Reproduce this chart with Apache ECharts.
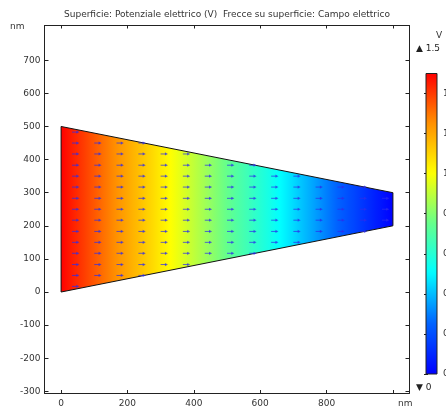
<!DOCTYPE html>
<html>
<head>
<meta charset="utf-8">
<script src="https://cdn.jsdelivr.net/npm/echarts@6/dist/echarts.min.js"></script>
<style>
  html, body { margin: 0; padding: 0; background: #ffffff; }
  #chart { width: 446px; height: 407px; }
</style>
</head>
<body>
<div id="chart"></div>
<script>
// Domain outline (nm), counter-clockwise
const outlineX = [0, 1000, 1000, 0];
const outlineY = [0, 200, 300, 500];

// Electric potential sampled along x (nm -> V)
const potentialX = [0, 250, 500, 750, 1000];
const potentialV = [1.5, 1.125, 0.75, 0.375, 0];

// Arrow sampling grid for the electric field (nm)
const arrowCols = [33, 100, 167, 233, 300, 367, 433, 500, 567, 633, 700, 767, 833, 900, 967];
const arrowRows = [17, 50, 83, 117, 150, 183, 217, 250, 283, 317, 350, 383, 417, 450, 483];

// Axis ticks
const xTicks = [0, 200, 400, 600, 800, 1000];
const xTickLabels = [0, 200, 400, 600, 800];
const yTicks = [-300, -200, -100, 0, 100, 200, 300, 400, 500, 600, 700];
const barTicks = [0, 0.2, 0.4, 0.6, 0.8, 1, 1.2, 1.4];
const barRange = [0, 1.5];

const FONT = '"DejaVu Sans", sans-serif';
const AXIS_COLOR = '#222222';
const TEXT_COLOR = '#333333';
const ARROW_COLOR = 'rgba(45, 45, 235, 0.72)';

// Rainbow colour table, position in [0,1] -> rgb
const rainbow = [
  [0.00, [0, 0, 255]],
  [0.17, [0, 100, 255]],
  [0.34, [0, 255, 255]],
  [0.50, [100, 255, 140]],
  [0.67, [255, 255, 0]],
  [0.84, [255, 140, 0]],
  [1.00, [255, 0, 0]]
];

function rainbowColor(t) {
  t = Math.max(0, Math.min(1, t));
  for (let i = 1; i < rainbow.length; i++) {
    if (t <= rainbow[i][0]) {
      const a = rainbow[i - 1], b = rainbow[i];
      const f = (t - a[0]) / (b[0] - a[0]);
      const c = a[1].map((v, k) => Math.round(v + (b[1][k] - v) * f));
      return 'rgb(' + c.join(',') + ')';
    }
  }
  return 'rgb(255,0,0)';
}

function potentialAt(x) {
  for (let i = 1; i < potentialX.length; i++) {
    if (x <= potentialX[i]) {
      const f = (x - potentialX[i - 1]) / (potentialX[i] - potentialX[i - 1]);
      return potentialV[i - 1] + (potentialV[i] - potentialV[i - 1]) * f;
    }
  }
  return potentialV[potentialV.length - 1];
}

function toUnit(v) {
  return (v - barRange[0]) / (barRange[1] - barRange[0]);
}

function insideOutline(x, y) {
  let inside = false;
  for (let i = 0, j = outlineX.length - 1; i < outlineX.length; j = i++) {
    const xi = outlineX[i], yi = outlineY[i], xj = outlineX[j], yj = outlineY[j];
    if ((yi > y) !== (yj > y) && x < (xj - xi) * (y - yi) / (yj - yi) + xi) inside = !inside;
  }
  return inside;
}

const arrowPoints = [];
arrowCols.forEach(x => arrowRows.forEach(y => {
  if (insideOutline(x, y)) arrowPoints.push([x, y]);
}));

const chart = echarts.init(document.getElementById('chart'), null, { renderer: 'canvas' });

const tickStyle = { color: AXIS_COLOR, width: 1 };
const lineStyle = { color: AXIS_COLOR, width: 1 };
const labelStyle = { color: TEXT_COLOR, fontSize: 9, fontFamily: FONT };

chart.setOption({
  animation: false,
  backgroundColor: '#ffffff',
  grid: [
    { left: 44.5, right: 36.5, top: 25.5, bottom: 14, outerBoundsMode: 'none', containLabel: false },
    { left: 426, top: 73.5, width: 11, height: 300.5, outerBoundsMode: 'none', containLabel: false }
  ],
  xAxis: [
    {
      gridIndex: 0, type: 'value', min: -50, max: 1050, position: 'bottom',
      axisLine: { onZero: false, lineStyle },
      axisTick: { inside: true, length: 3, customValues: xTicks, lineStyle: tickStyle },
      axisLabel: Object.assign({ customValues: xTickLabels, margin: 6 }, labelStyle),
      splitLine: { show: false }
    },
    {
      gridIndex: 0, type: 'value', min: -50, max: 1050, position: 'top',
      axisLine: { onZero: false, lineStyle },
      axisTick: { inside: true, length: 3, customValues: xTicks, lineStyle: tickStyle },
      axisLabel: { show: false },
      splitLine: { show: false }
    },
    { gridIndex: 1, type: 'value', min: 0, max: 1, show: false }
  ],
  yAxis: [
    {
      gridIndex: 0, type: 'value', min: -305, max: 805, position: 'left',
      axisLine: { onZero: false, lineStyle },
      axisTick: { inside: true, length: 4, customValues: yTicks, lineStyle: tickStyle },
      axisLabel: Object.assign({ customValues: yTicks, margin: 4 }, labelStyle),
      splitLine: { show: false }
    },
    {
      gridIndex: 0, type: 'value', min: -305, max: 805, position: 'right',
      axisLine: { onZero: false, lineStyle },
      axisTick: { inside: true, length: 4, customValues: yTicks, lineStyle: tickStyle },
      axisLabel: { show: false },
      splitLine: { show: false }
    },
    {
      gridIndex: 1, type: 'value', min: barRange[0], max: barRange[1], position: 'right',
      axisLine: { show: false },
      axisTick: { inside: true, length: 2, customValues: barTicks, lineStyle: tickStyle },
      axisLabel: Object.assign({ customValues: barTicks, margin: 6 }, labelStyle),
      splitLine: { show: false }
    },
    {
      gridIndex: 1, type: 'value', min: barRange[0], max: barRange[1], position: 'left',
      axisLine: { show: false },
      axisTick: { inside: true, length: 2, customValues: barTicks, lineStyle: tickStyle },
      axisLabel: { show: false },
      splitLine: { show: false }
    }
  ],
  series: [
    {
      // Surface: electric potential on the tapered domain
      type: 'custom',
      xAxisIndex: 0, yAxisIndex: 0,
      silent: true,
      data: outlineX.map((x, i) => [x, outlineY[i]]),
      renderItem: function (params, api) {
        if (params.dataIndex !== 0) return null;
        const pts = outlineX.map((x, i) => api.coord([x, outlineY[i]]));
        const x0 = Math.min.apply(null, outlineX), x1 = Math.max.apply(null, outlineX);
        const p0 = api.coord([x0, 0]), p1 = api.coord([x1, 0]);
        const stops = [];
        for (let k = 0; k <= 100; k++) {
          const x = x0 + (x1 - x0) * k / 100;
          stops.push({ offset: k / 100, color: rainbowColor(toUnit(potentialAt(x))) });
        }
        return {
          type: 'polygon',
          shape: { points: pts },
          style: {
            fill: new echarts.graphic.LinearGradient(p0[0], 0, p1[0], 0, stops, true),
            stroke: '#111111',
            lineWidth: 1
          }
        };
      },
      z: 2
    },
    {
      // Arrows on the surface: electric field
      type: 'custom',
      xAxisIndex: 0, yAxisIndex: 0,
      silent: true,
      data: arrowPoints,
      renderItem: function (params, api) {
        const p = api.coord([api.value(0), api.value(1)]);
        const L = 7.3;
        return {
          type: 'group',
          children: [
            {
              type: 'line',
              shape: { x1: p[0], y1: p[1], x2: p[0] + L - 2, y2: p[1] },
              style: { stroke: ARROW_COLOR, lineWidth: 1 }
            },
            {
              type: 'polygon',
              shape: { points: [[p[0] + L, p[1]], [p[0] + L - 3, p[1] - 1.6], [p[0] + L - 3, p[1] + 1.6]] },
              style: { fill: ARROW_COLOR }
            }
          ]
        };
      },
      z: 3
    },
    {
      // Colour legend bar
      type: 'custom',
      xAxisIndex: 2, yAxisIndex: 2,
      silent: true,
      data: [[0, barRange[0]], [1, barRange[1]]],
      renderItem: function (params, api) {
        if (params.dataIndex !== 0) return null;
        const a = api.coord([0, barRange[1]]);
        const b = api.coord([1, barRange[0]]);
        const stops = [];
        for (let k = 0; k <= 60; k++) {
          stops.push({ offset: k / 60, color: rainbowColor(1 - k / 60) });
        }
        return {
          type: 'rect',
          shape: { x: a[0], y: a[1], width: b[0] - a[0], height: b[1] - a[1] },
          style: {
            fill: new echarts.graphic.LinearGradient(0, a[1], 0, b[1], stops, true),
            stroke: '#222222',
            lineWidth: 1
          }
        };
      },
      z: 2
    }
  ],
  graphic: [
    {
      type: 'text', left: 64, top: 10,
      style: {
        text: 'Superficie: Potenziale elettrico (V)  Frecce su superficie: Campo elettrico',
        fill: TEXT_COLOR, font: '9px ' + FONT
      }
    },
    { type: 'text', left: 10, top: 22, style: { text: 'nm', fill: TEXT_COLOR, font: '9px ' + FONT } },
    { type: 'text', left: 398, top: 399, style: { text: 'nm', fill: TEXT_COLOR, font: '9px ' + FONT } },
    { type: 'text', left: 436, top: 31, style: { text: 'V', fill: TEXT_COLOR, font: '9px ' + FONT } },
    { type: 'text', left: 416, top: 44, style: { text: '\u25B2 1.5', fill: '#222222', font: '9px ' + FONT } },
    { type: 'text', left: 416, top: 383, style: { text: '\u25BC 0', fill: '#222222', font: '9px ' + FONT } }
  ]
});
</script>
</body>
</html>
